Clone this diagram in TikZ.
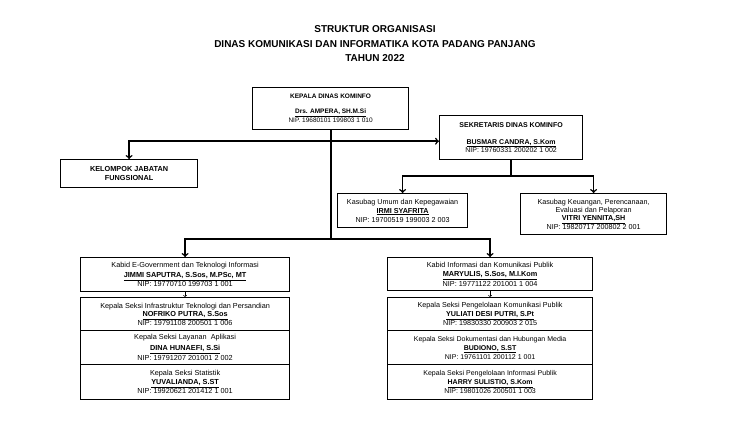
\documentclass[tikz,border=0pt]{standalone}
\usepackage{fontspec}
\setmainfont{Liberation Sans}
\begin{document}
\begin{tikzpicture}[x=1pt,y=-1pt,thick,
  box/.style={draw,line width=1.2pt,anchor=north west,inner sep=1pt,align=center,font=\fontsize{7.3}{9.6}\selectfont},
  link/.style={line width=1.5pt,->}]
\useasboundingbox[fill=white] (0,0) rectangle (750,441);
\node[align=center,font=\bfseries\fontsize{10}{14.5}\selectfont] (title) at (375,44)
  {STRUKTUR ORGANISASI\\DINAS KOMUNIKASI DAN INFORMATIKA KOTA PADANG PANJANG\\TAHUN 2022};

\node[box,minimum width=156pt,minimum height=42pt,font=\fontsize{6.5}{9.5}\selectfont] (kepala) at (252,87)
  {\textbf{KEPALA DINAS KOMINFO}\\[5pt]\textbf{\underline{Drs. AMPERA, SH.M.Si}}\\NIP. 19680101 199803 1 010};
\node[box,minimum width=137pt,minimum height=28pt,font=\bfseries\fontsize{7.3}{9}\selectfont] (kjf) at (60,159)
  {KELOMPOK JABATAN\\FUNGSIONAL};
\node[box,minimum width=143pt,minimum height=44pt,font=\fontsize{7}{8.5}\selectfont] (sekretaris) at (439,115)
  {\textbf{SEKRETARIS DINAS KOMINFO}\\[8pt]\textbf{\underline{BUSMAR CANDRA, S.Kom}}\\NIP: 19760331 200202 1 002};
\node[box,minimum width=130pt,minimum height=34pt,font=\fontsize{7.2}{9}\selectfont] (umum) at (337,193)
  {Kasubag Umum dan Kepegawaian\\\textbf{\underline{IRMI SYAFRITA}}\\NIP: 19700519 199003 2 003};
\node[box,minimum width=146pt,minimum height=41pt,font=\fontsize{7.2}{8.4}\selectfont] (keuangan) at (520,193)
  {Kasubag Keuangan, Perencanaan,\\Evaluasi dan Pelaporan\\\textbf{\underline{VITRI YENNITA,SH}}\\NIP: 19820717 200802 2 001};

\node[box,minimum width=209pt,minimum height=34pt] (kabidTI) at (80,257)
  {Kabid E-Government dan Teknologi Informasi\\\textbf{\underline{JIMMI SAPUTRA, S.Sos, M.PSc, MT}}\\NIP: 19770710 199703 1 001};
\node[box,minimum width=209pt,minimum height=33pt,font=\fontsize{7.3}{8.7}\selectfont] (infra) at (80,297)
  {Kepala Seksi Infrastruktur Teknologi dan Persandian\\\textbf{\underline{NOFRIKO PUTRA, S.Sos}}\\NIP: 19791108 200501 1 006};
\node[box,minimum width=209pt,minimum height=34pt,font=\fontsize{7.3}{10.5}\selectfont] (layanan) at (80,330)
  {Kepala Seksi Layanan\ \ Aplikasi\\\textbf{\underline{DINA HUNAEFI, S.Si}}\\NIP: 19791207 201001 2 002};
\node[box,minimum width=209pt,minimum height=35pt,font=\fontsize{7.3}{9}\selectfont] (statistik) at (80,364)
  {Kepala Seksi Statistik\\\textbf{\underline{YUVALIANDA, S.ST}}\\NIP: 19920621 201412 1 001};

\node[box,minimum width=205pt,minimum height=33pt] (kabidIKP) at (387,257)
  {Kabid Informasi dan Komunikasi Publik\\\textbf{\underline{MARYULIS, S.Sos, M.I.Kom}}\\NIP: 19771122 201001 1 004};
\node[box,minimum width=205pt,minimum height=33pt,font=\fontsize{7.2}{9}\selectfont] (pkp) at (387,297)
  {Kepala Seksi Pengelolaan Komunikasi Publik\\\textbf{\underline{YULIATI DESI PUTRI, S.Pt}}\\NIP: 19830330 200903 2 015};
\node[box,minimum width=205pt,minimum height=34pt,font=\fontsize{7}{9}\selectfont] (dokumentasi) at (387,330)
  {Kepala Seksi Dokumentasi dan Hubungan Media\\\textbf{\underline{BUDIONO, S.ST}}\\NIP: 19761101 200112 1 001};
\node[box,minimum width=205pt,minimum height=35pt,font=\fontsize{7}{9}\selectfont] (pip) at (387,364)
  {Kepala Seksi Pengelolaan Informasi Publik\\\textbf{\underline{HARRY SULISTIO, S.Kom}}\\NIP: 19801026 200501 1 003};

\draw[line width=2.2pt] (kepala.south) -- ++(0,109) coordinate (bus);
\path (kepala.south) ++(0,11) coordinate (split);
\draw[link] (split) -| (kjf.north);
\draw[link] (split) -- (split -| sekretaris.west);
\draw[line width=1.5pt] (sekretaris.south) -- ++(0,16) coordinate (sekbus);
\draw[link] (sekbus) -| (umum.north);
\draw[link] (sekbus) -| (keuangan.north);
\draw[link] (bus) -| (kabidTI.north);
\draw[link] (bus) -| (kabidIKP.north);
\draw[line width=0.5pt,->] (kabidTI.south) -- (infra.north);
\draw[line width=0.5pt,->] (kabidIKP.south) -- (pkp.north);
\end{tikzpicture}
\end{document}
